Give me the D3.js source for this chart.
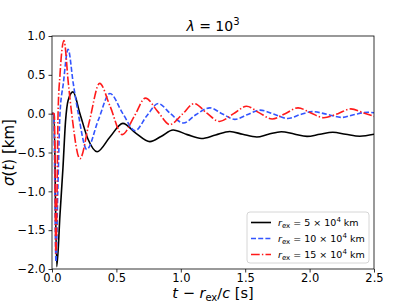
<!DOCTYPE html>
<html lang="en">
<head>
<meta charset="utf-8" />
<title>sigma(t)</title>
<script src="https://cdn.jsdelivr.net/npm/d3@7"></script>
<style>
  body { margin: 0; background: #fff; }
  text { font-family: "DejaVu Sans", sans-serif; }
</style>
</head>
<body>
<div id="chart"></div>
<script>
// ---- data ----
var xTicks = [0.0, 0.5, 1.0, 1.5, 2.0, 2.5];
var yTicks = [-2.0, -1.5, -1.0, -0.5, 0.0, 0.5, 1.0];

// r_ex = 5e4 km
var t5 = [0, 0.015, 0.037, 0.062, 0.085, 0.105, 0.125, 0.163, 0.217, 0.28, 0.35, 0.45, 0.55, 0.65, 0.76, 0.85, 0.94, 1.05, 1.16, 1.27, 1.38, 1.48, 1.59, 1.68, 1.78, 1.88, 1.98, 2.08, 2.18, 2.28, 2.39, 2.5];
var s5 = [0, 0, -1.97, -1.3, -0.7, -0.1, 0.17, 0.28, 0.0, -0.33, -0.49, -0.3, -0.125, -0.25, -0.36, -0.29, -0.21, -0.27, -0.32, -0.275, -0.23, -0.265, -0.30, -0.265, -0.232, -0.262, -0.293, -0.265, -0.24, -0.265, -0.29, -0.265];

// r_ex = 10e4 km
var t10 = [0, 0.013, 0.031, 0.045, 0.062, 0.088, 0.125, 0.165, 0.204, 0.27, 0.36, 0.45, 0.55, 0.645, 0.735, 0.825, 0.92, 1.02, 1.12, 1.225, 1.32, 1.42, 1.52, 1.615, 1.72, 1.83, 1.93, 2.02, 2.14, 2.25, 2.35, 2.45, 2.5];
var s10 = [0, 0, -1.91, -1.0, 0, 0.39, 0.83, 0.39, 0, -0.46, -0.08, 0.26, 0.0, -0.22, -0.03, 0.13, 0.0, -0.12, -0.01, 0.075, 0.0, -0.073, -0.01, 0.046, -0.005, -0.062, -0.01, 0.026, -0.01, -0.048, -0.01, 0.018, 0.012];

// r_ex = 15e4 km
var t15 = [0, 0.018, 0.03, 0.04, 0.047, 0.062, 0.093, 0.127, 0.153, 0.217, 0.29, 0.37, 0.45, 0.545, 0.64, 0.725, 0.82, 0.915, 1.01, 1.105, 1.2, 1.30, 1.41, 1.51, 1.61, 1.71, 1.81, 1.91, 2.01, 2.11, 2.22, 2.32, 2.42, 2.5];
var s15 = [0, 0, -1.8, -0.9, 0, 0.5, 0.94, 0.39, 0, -0.58, -0.1, 0.39, 0.1, -0.27, -0.03, 0.20, 0.03, -0.14, -0.01, 0.13, 0.01, -0.10, 0.0, 0.095, 0.01, -0.068, 0.0, 0.075, 0.01, -0.053, 0.0, 0.062, 0.01, -0.035];

var seriesNames = ["5", "10", "15"];
var seriesT = [t5, t10, t15];
var seriesS = [s5, s10, s15];
var seriesColor = ["#000000", "#3355ff", "#ff1a1a"];
var seriesDash = [null, "5,2.2", "8.7,2.2,1.4,2.2"];

// ---- layout ----
var W = 416, H = 303;
var margin = {top: 36, right: 42, bottom: 34, left: 52};
var width = W - margin.left - margin.right,
    height = H - margin.top - margin.bottom;

var svg = d3.select("#chart").append("svg")
    .attr("width", W)
    .attr("height", H);

var g = svg.append("g")
    .attr("transform", "translate(" + margin.left + "," + margin.top + ")");

var x = d3.scaleLinear().domain([0, 2.5]).range([0, width]);
var y = d3.scaleLinear().domain([-2, 1]).range([height, 0]);

var fmt = d3.format(".1f");

// axes
var xAxis = g.append("g")
    .attr("transform", "translate(0," + height + ")")
    .call(d3.axisBottom(x).tickValues(xTicks).tickFormat(fmt).tickSize(3.5).tickPadding(1.5));
var yAxis = g.append("g")
    .call(d3.axisLeft(y).tickValues(yTicks).tickFormat(fmt).tickSize(3.5).tickPadding(3));
[xAxis, yAxis].forEach(function(a) {
  a.select(".domain").remove();
  a.selectAll("text").style("font-size", "11.5px").attr("fill", "#000");
  a.selectAll("line").attr("stroke", "#000").attr("stroke-width", 0.8);
});

// curves
var clip = g.append("clipPath").attr("id", "clip")
  .append("rect").attr("width", width).attr("height", height + 2).attr("y", -1);

var line = d3.line()
    .x(function(d) { return x(d[0]); })
    .y(function(d) { return y(d[1]); })
    .curve(d3.curveMonotoneX);

seriesT.forEach(function(ts, i) {
  var pts = ts.map(function(t, j) { return [t, seriesS[i][j]]; });
  g.append("path")
    .datum(pts)
    .attr("clip-path", "url(#clip)")
    .attr("fill", "none")
    .attr("stroke", seriesColor[i])
    .attr("stroke-width", 1.6)
    .attr("stroke-dasharray", seriesDash[i])
    .attr("d", line);
});

// frame
g.append("rect")
  .attr("width", width).attr("height", height)
  .attr("fill", "none").attr("stroke", "#000").attr("stroke-width", 0.8);

// title
var title = svg.append("text")
  .attr("x", margin.left + width / 2)
  .attr("y", 31)
  .attr("text-anchor", "middle")
  .style("font-size", "14px");
title.append("tspan").style("font-style", "italic").text("λ");
title.append("tspan").text(" = 10");
title.append("tspan").attr("dy", -6).style("font-size", "10px").text("3");

// y label
var ylab = svg.append("text")
  .attr("transform", "translate(14," + (margin.top + height / 2) + ") rotate(-90)")
  .attr("text-anchor", "middle")
  .style("font-size", "15px");
ylab.append("tspan").style("font-style", "italic").text("σ");
ylab.append("tspan").text("(");
ylab.append("tspan").style("font-style", "italic").text("t");
ylab.append("tspan").text(") [km]");

// x label
var xlab = svg.append("text")
  .attr("x", margin.left + width / 2)
  .attr("y", 297.5)
  .attr("text-anchor", "middle")
  .style("font-size", "14.5px");
xlab.append("tspan").style("font-style", "italic").text("t");
xlab.append("tspan").text(" − ");
xlab.append("tspan").style("font-style", "italic").text("r");
xlab.append("tspan").attr("dy", 3).style("font-size", "10px").text("ex");
xlab.append("tspan").attr("dy", -3).text("/");
xlab.append("tspan").style("font-style", "italic").text("c");
xlab.append("tspan").text(" [s]");

// legend
var lg = svg.append("g").attr("transform", "translate(247,212)");
lg.append("rect")
  .attr("width", 122).attr("height", 51)
  .attr("rx", 3)
  .attr("fill", "#fff").attr("fill-opacity", 0.8)
  .attr("stroke", "#cccccc").attr("stroke-width", 0.8);

seriesNames.forEach(function(n, i) {
  var yy = 10.5 + i * 16;
  lg.append("line")
    .attr("x1", 4).attr("x2", 24)
    .attr("y1", yy).attr("y2", yy)
    .attr("stroke", seriesColor[i])
    .attr("stroke-width", 1.6)
    .attr("stroke-dasharray", seriesDash[i]);
  var t = lg.append("text")
    .attr("x", 31).attr("y", yy + 3.5)
    .style("font-size", "9.5px");
  t.append("tspan").style("font-style", "italic").text("r");
  t.append("tspan").attr("dy", 2.2).style("font-size", "7px").text("ex");
  t.append("tspan").attr("dy", -2.2).text(" = " + n + " × 10");
  t.append("tspan").attr("dy", -4).style("font-size", "7px").text("4");
  t.append("tspan").attr("dy", 4).text(" km");
});
</script>
</body>
</html>
